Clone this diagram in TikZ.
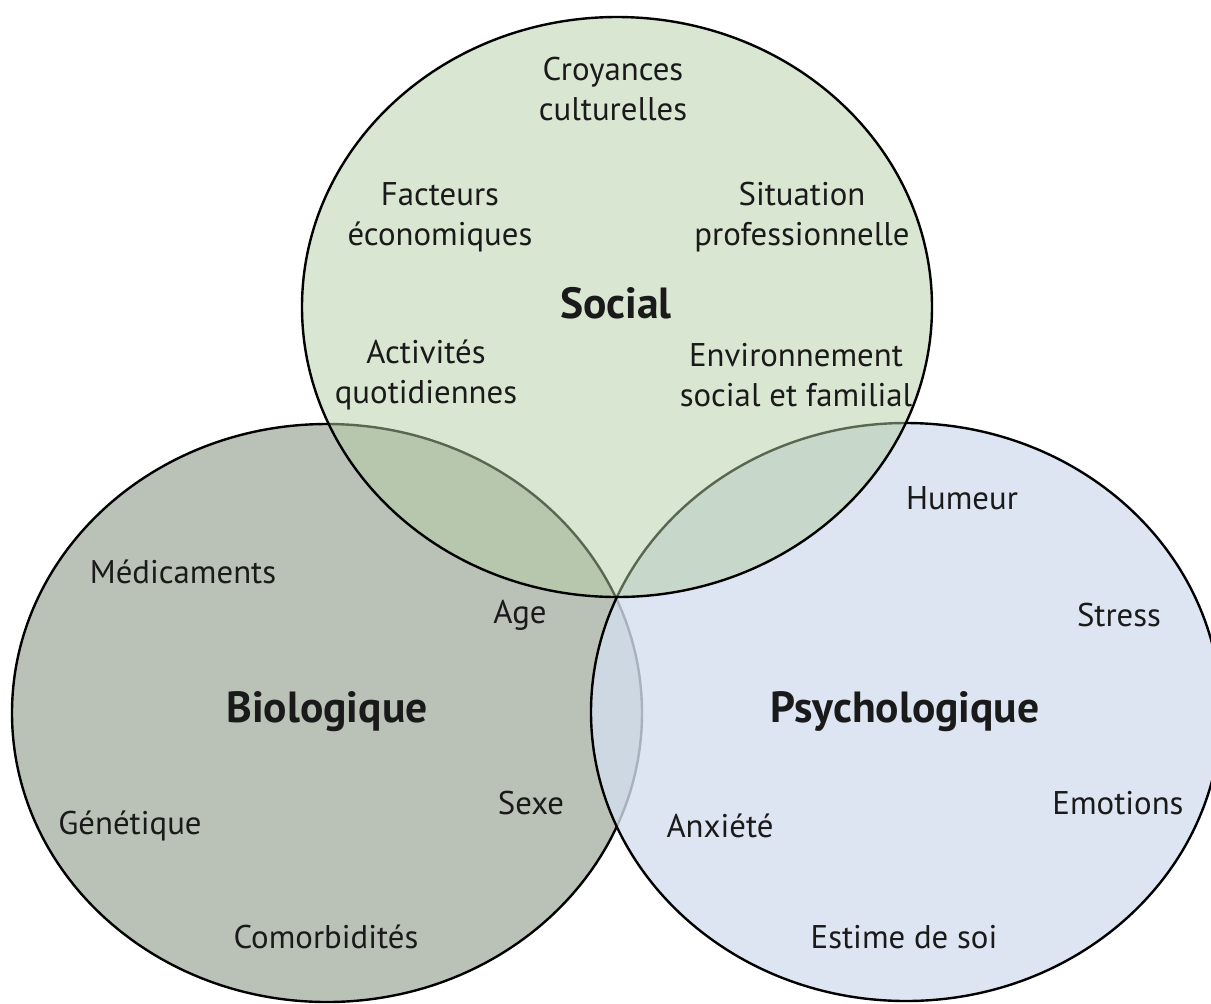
\documentclass[tikz,border=0pt]{standalone}
\usepackage{fontspec}
\setmainfont{PT Sans}
\definecolor{biofill}{RGB}{186,194,183}
\definecolor{psyfill}{RGB}{211,222,237}
\definecolor{socfill}{RGB}{179,205,165}
\definecolor{inktext}{RGB}{26,26,26}
\begin{document}
\begin{tikzpicture}[
        x=0.5pt, y=-0.5pt,
    ]

    \tikzstyle{sphere} = [draw=black, line width=1.2pt]
    \tikzstyle{item} = [text=inktext, align=center,
                        font=\fontsize{16.4}{19.8}\selectfont]
    \tikzstyle{title} = [text=inktext, font=\fontsize{21.8}{24}\selectfont\bfseries]

    \useasboundingbox (0,0) rectangle (1211,1003);

    % Circles
    \coordinate (bio) at (327,713);
    \coordinate (psy) at (906,712);
    \coordinate (soc) at (617,307);
    \draw[sphere, fill=biofill] (bio) ellipse [x radius=315, y radius=289];
    \draw[sphere, fill=psyfill, fill opacity=0.8] (psy) ellipse [x radius=315, y radius=289];
    \draw[sphere, fill=socfill, fill opacity=0.5] (soc) ellipse [x radius=315, y radius=290];

    % Titles
    \node[title] (social) at (616,303) {Social};
    \node[title] (biologique) at (327,712) {Biologique};
    \node[title] (psychologique) at (905,712) {Psychologique};

    % Social factors
    \node[item] (croyances) at (613,89) {Croyances\\culturelles};
    \node[item] (facteurs) at (440,217) {Facteurs\\économiques};
    \node[item] (situation) at (802,217) {Situation\\professionnelle};
    \node[item] (activites) at (426,375) {Activités\\quotidiennes};
    \node[item] (environnement) at (796,375) {Environnement\\social et familial};

    % Biological factors
    \node[item] (medicaments) at (183,572) {Médicaments};
    \node[item] (age) at (520,615) {Age};
    \node[item] (sexe) at (531,803) {Sexe};
    \node[item] (genetique) at (130,826) {Génétique};
    \node[item] (comorbidites) at (326,937) {Comorbidités};

    % Psychological factors
    \node[item] (humeur) at (962,498) {Humeur};
    \node[item] (stress) at (1119,615) {Stress};
    \node[item] (emotions) at (1118,803) {Emotions};
    \node[item] (anxiete) at (720,826) {Anxiété};
    \node[item] (estime) at (904,937) {Estime de soi};

\end{tikzpicture}
\end{document}
